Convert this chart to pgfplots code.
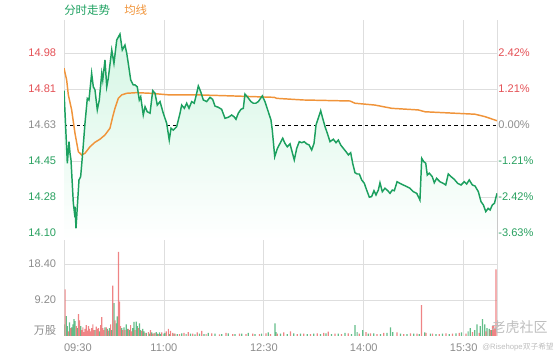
\documentclass[border=0pt]{standalone}
\usepackage{pgfplots}
\usepackage{pgfplotstable}
\pgfplotsset{compat=1.18}
\usepgfplotslibrary{fillbetween}
\usepackage{fontspec}
\setmainfont{Liberation Sans}
\newfontfamily\cjk{Noto Sans CJK SC}
\definecolor{pgreen}{RGB}{28,160,95}
\definecolor{porange}{RGB}{240,148,58}
\definecolor{lred}{RGB}{228,80,85}
\definecolor{lgreen}{RGB}{40,160,95}
\definecolor{lgray}{RGB}{140,140,140}
\definecolor{gridc}{RGB}{222,222,222}
\definecolor{vred}{RGB}{236,110,112}
\definecolor{vgreen}{RGB}{70,178,115}
\definecolor{fillg}{RGB}{212,246,228}
\definecolor{wm}{RGB}{190,190,190}

\pgfplotstableread{
m p
0 14.799
3.0 14.442
4.5 14.548
5.4 14.492
6.3 14.458
8.4 14.246
9.3 14.204
9.9 14.228
10.8 14.122
12.0 14.228
13.5 14.360
15.0 14.376
16.8 14.491
18.9 14.638
21.0 14.761
22.5 14.753
24.9 14.884
26.4 14.818
27.9 14.802
30.0 14.704
31.8 14.753
34.0 14.884
34.9 14.851
36.9 14.950
38.5 14.818
39.9 14.860
43.0 14.999
45.0 14.933
47.5 15.048
50.4 15.077
52.5 14.999
54.9 15.023
56.5 14.983
57.9 14.933
60.1 14.851
62.4 14.827
63.9 14.827
66.0 14.818
67.8 14.753
69.1 14.769
71.4 14.679
73.0 14.720
75.0 14.695
77.5 14.688
79.9 14.799
82.0 14.786
84.0 14.728
86.5 14.745
89.4 14.688
92.5 14.638
94.8 14.556
96.4 14.614
98.4 14.605
101.5 14.622
104.5 14.688
106.0 14.728
108.4 14.712
110.5 14.737
112.6 14.712
115.0 14.745
117.3 14.737
119.5 14.786
121.0 14.822
123.1 14.794
125.5 14.753
128.5 14.745
131.5 14.766
133.9 14.756
136.0 14.723
139.0 14.717
142.0 14.707
145.0 14.663
148.0 14.668
151.0 14.679
153.1 14.671
154.9 14.658
157.0 14.688
159.4 14.707
161.5 14.712
163.0 14.782
165.5 14.766
168.4 14.745
170.5 14.737
172.7 14.737
175.0 14.745
178.6 14.773
181.0 14.745
184.0 14.695
186.4 14.655
187.6 14.605
189.8 14.474
192.2 14.515
194.6 14.540
197.0 14.565
199.0 14.540
201.1 14.523
203.6 14.537
205.4 14.499
207.4 14.458
209.6 14.515
211.9 14.548
214.1 14.543
216.4 14.548
218.6 14.537
220.7 14.532
223.1 14.507
225.2 14.540
227.0 14.630
228.5 14.655
231.2 14.700
233.0 14.663
235.1 14.622
237.2 14.589
239.6 14.548
242.6 14.560
245.0 14.543
247.1 14.556
249.2 14.532
251.6 14.515
254.0 14.499
256.1 14.483
258.2 14.494
260.0 14.442
262.1 14.395
264.2 14.389
266.0 14.389
268.1 14.360
270.5 14.343
272.6 14.310
275.0 14.275
277.1 14.278
279.2 14.307
281.0 14.286
283.1 14.310
284.6 14.346
286.7 14.302
289.1 14.319
291.6 14.307
293.6 14.294
295.7 14.310
297.5 14.307
300.0 14.351
302.6 14.343
305.6 14.335
308.7 14.327
311.6 14.319
314.6 14.302
317.7 14.294
320.6 14.261
322.2 14.466
324.0 14.450
325.8 14.442
327.2 14.384
329.0 14.393
331.7 14.376
333.5 14.346
335.6 14.368
338.6 14.351
341.6 14.343
343.8 14.335
346.1 14.389
348.6 14.376
351.5 14.363
354.6 14.343
357.6 14.335
360.5 14.351
362.7 14.340
365.0 14.360
367.8 14.335
370.2 14.330
373.2 14.302
375.6 14.253
377.7 14.237
379.9 14.204
382.0 14.220
383.8 14.212
385.8 14.237
387.7 14.245
390 14.294
}\pricetable

\pgfplotstableread{
m a
0 14.909
2.4 14.851
3.9 14.778
6.9 14.704
9.9 14.589
12.9 14.499
15.9 14.483
18.9 14.491
23.4 14.523
27.9 14.545
32.4 14.560
36.9 14.581
41.4 14.614
43.9 14.671
45.9 14.712
48.9 14.761
52.0 14.778
56.5 14.786
65.5 14.789
77.5 14.786
94.8 14.778
121.0 14.778
151.0 14.773
189.4 14.766
191.6 14.761
215.5 14.753
257.6 14.748
262.1 14.737
280.1 14.728
295.2 14.712
319.1 14.704
325.2 14.695
370.2 14.683
379.2 14.671
390 14.651
}\avgtable

\pgfplotstableread{
m v
1 11.9
4 1.2
6 2.0
11 2.5
13 5.6
14 4.0
16 1.5
17 2.2
18 1.0
19 1.8
20 2.8
21 1.4
22 2.5
23 1.8
24 1.2
25 2.0
26 3.0
27 1.5
29 2.4
30 1.8
31 2.0
33 2.8
34 4.8
35 2.0
36 1.5
38 2.2
40 1.4
42 3.0
44 12.9
46 4.0
49 21.5
50 8.8
51 2.5
53 1.5
55 1.5
58 1.8
60 2.8
61 1.2
64 1.5
67 2.0
70 1.3
73 0.8
76 1.0
78 1.5
80 0.6
82 0.8
85 0.5
88 0.9
92 1.2
94 1.8
96 1.3
98 0.8
100 0.6
104 0.5
108 0.8
112 1.0
116 0.6
120 0.9
124 1.3
128 0.5
133 0.7
140 0.4
146 0.8
152 0.5
158 0.6
164 0.5
170 0.6
176 0.5
182 0.7
186 0.5
192 0.6
198 0.9
204 1.2
210 0.5
216 0.6
222 0.5
228 0.7
234 0.8
238 1.1
244 0.6
250 0.5
256 0.7
266 0.6
272 1.0
276 0.7
282 0.5
288 0.8
300 0.9
306 0.5
312 0.7
318 0.6
322 7.9
326 0.8
332 0.6
338 0.5
344 0.7
350 0.6
356 0.8
362 0.6
368 1.0
374 0.8
380 1.2
384 1.5
386 2.5
387 2.8
388 2.0
389 17.0
}\redvol

\pgfplotstableread{
m v
0 3.0
2 5.1
3 2.5
5 3.5
7 2.2
8 3.0
9 4.3
10 3.8
12 2.0
15 2.5
28 1.5
32 1.2
37 2.2
39 1.8
41 2.0
43 1.5
45 8.4
47 3.2
48 5.0
52 2.0
54 2.2
56 3.0
57 1.8
59 1.5
62 2.0
63 3.6
65 3.7
66 2.5
68 3.2
69 1.5
71 1.8
72 1.2
74 0.8
77 0.6
79 0.9
81 0.7
83 1.0
84 0.6
86 0.9
87 0.5
90 0.6
91 0.8
95 0.5
99 0.6
102 0.5
106 0.7
110 0.5
114 0.6
118 0.4
122 0.6
126 0.5
130 0.8
136 0.6
142 0.5
148 0.7
154 0.5
160 0.6
166 0.8
172 0.5
178 0.6
184 0.9
190 3.2
191 1.0
195 0.6
201 0.5
207 0.7
213 0.6
219 0.5
225 0.6
231 0.5
236 0.7
241 0.5
247 0.6
253 0.8
259 0.5
262 2.8
264 1.0
269 1.5
274 0.6
279 0.7
285 0.5
291 0.8
294 2.2
296 1.0
303 0.6
309 0.5
315 0.6
320 0.5
325 0.9
330 0.6
335 0.5
341 0.6
347 0.5
353 0.7
358 0.9
364 1.2
366 2.0
370 1.5
372 3.0
375 2.5
377 4.3
379 3.0
381 2.0
383 1.8
385 1.5
}\greenvol

\begin{document}
\begin{tikzpicture}[x=1pt,y=1pt]
\pgfplotsset{
  base/.style={
    scale only axis, width=324.75pt, anchor=south west,
    xmin=0, xmax=390,
    axis line style={draw=none},
    major tick length=0pt,
    tick style={draw=none},
    grid style={gridc, line width=0.6pt},
    tick label style={font=\fontsize{8.3}{10}\selectfont},
  }
}
% price panel
\begin{axis}[base, at={(48pt,90pt)}, height=165pt,
  ymin=14.0645, ymax=15.1463,
  xtick={0,90,180,270,360,390}, xticklabels={}, xmajorgrids,
  ytick={14.099,14.276,14.453,14.807,14.984},
  yticklabels={\textcolor{lgreen}{14.10},\textcolor{lgreen}{14.28},\textcolor{lgreen}{14.45},\textcolor{lred}{14.81},\textcolor{lred}{14.98}},
  ymajorgrids,
  extra y ticks={14.63},
  extra y tick labels={\textcolor{lgray}{14.63}},
  extra y tick style={grid style={black, line width=0.6pt, dash pattern=on 2.6pt off 2.2pt}},
  yticklabel style={xshift=-2.4pt},
]
\addplot[draw=none, name path=price, forget plot] table[x=m,y=p] {\pricetable};
\path[name path=bot] (axis cs:0,14.0645) -- (axis cs:390,14.0645);
\addplot[top color=fillg, bottom color=white, draw=none] fill between[of=price and bot];
\addplot[porange, line width=1.1pt] table[x=m,y=a] {\avgtable};
\addplot[pgreen, line width=1.1pt] table[x=m,y=p] {\pricetable};
\end{axis}
% right percent labels
\begin{axis}[base, at={(48pt,90pt)}, height=165pt,
  ymin=14.0645, ymax=15.1463,
  xtick=\empty,
  yticklabel pos=right,
  ytick={14.099,14.276,14.453,14.807,14.984},
  yticklabels={\textcolor{lgreen}{-3.63\%},\textcolor{lgreen}{-2.42\%},\textcolor{lgreen}{-1.21\%},\textcolor{lred}{1.21\%},\textcolor{lred}{2.42\%}},
  extra y ticks={14.63},
  extra y tick labels={\textcolor{lgray}{0.00\%}},
  yticklabel style={xshift=-2.5pt},
]
\addplot[draw=none, forget plot] table[x=m,y=p] {\pricetable};
\end{axis}
% volume panel
\begin{axis}[base, at={(48pt,18pt)}, height=72pt,
  ymin=0, ymax=24.53,
  xtick={0,90,180,270,360,390},
  xticklabels={\makebox[0pt][l]{09:30},11:00,12:30,14:00,15:30,},
  xticklabel style={text=lgray, yshift=-2pt},
  xmajorgrids,
  ytick={9.2,18.4},
  yticklabels={9.20,18.40},
  yticklabel style={text=lgray, xshift=-2.4pt},
  ymajorgrids,
  extra y ticks={0},
  extra y tick labels={{\cjk 万股}},
  extra y tick style={grid=none, yticklabel style={yshift=4pt, text=lgray}},
]
\addplot[ybar, bar width=1.1, bar shift=0pt, fill=vgreen, draw=none, fill opacity=0.85] table[x=m,y=v] {\greenvol};
\addplot[ybar, bar width=1.1, bar shift=0pt, fill=vred, draw=none, fill opacity=0.85] table[x=m,y=v] {\redvol};
\end{axis}
% header
\node[anchor=west, inner sep=0pt, text=pgreen, font=\cjk\fontsize{8.6}{10}\selectfont] at (48,262.5) {分时走势};
\node[anchor=west, inner sep=0pt, text=porange, font=\cjk\fontsize{8.6}{10}\selectfont] at (93,262.5) {均线};
% watermark
\node[anchor=east, inner sep=0pt, text=wm, font=\cjk\fontsize{10.5}{12}\selectfont] at (411,24.8) {老虎社区};
\node[anchor=west, inner sep=0pt, text=wm, font=\fontsize{5.8}{7}\selectfont] at (361.5,9.8) {@Risehope{\cjk 双子希望}};
\pgfresetboundingbox
\path[use as bounding box] (0,0) rectangle (420,270);
\end{tikzpicture}
\end{document}
